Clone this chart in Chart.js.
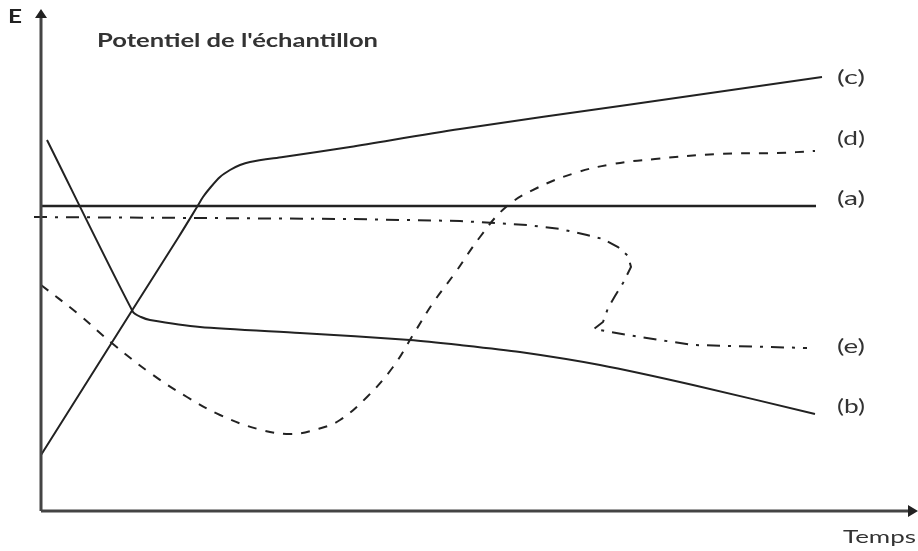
<!DOCTYPE html>
<html lang="fr">
<head>
    <meta charset="UTF-8">
    <title>Potentiel de l'échantillon</title>
    <script src="https://cdn.jsdelivr.net/npm/chart.js"></script>
    <style>
        body { margin: 0; background: #fff; }
        #wrap { width: 918px; height: 551px; }
    </style>
</head>
<body>
<div id="wrap"><canvas id="chart"></canvas></div>
<script>
    // valeurs (temps, E) - unités arbitraires
    const curveA = [[0, 305], [775, 305]];
    const curveB = [[6, 371], [92, 199], [100, 194], [109, 191], [159, 184], [259, 178], [369, 171], [419, 166], [479, 159], [559, 146], [652, 126], [774, 97]];
    const curveC = [[0, 56], [92, 202], [137, 273], [156, 304], [162, 314], [169, 323], [179, 334], [189, 341], [199, 346], [209, 349], [242, 354], [276, 359], [309, 364], [419, 382], [586, 406], [781, 434]];
    const curveD = [[0, 226], [36, 198], [72, 167], [112, 136], [146, 114], [179, 96], [217, 82], [249, 77], [277, 82], [299, 91], [326, 114], [352, 144], [372, 176], [392, 208], [414, 238], [439, 274], [465, 304], [496, 323], [534, 338], [572, 347], [614, 352], [676, 357], [736, 358], [774, 360]];
    const curveE = [[-7, 294], [159, 293], [309, 292], [419, 290], [486, 286], [519, 282], [546, 276], [562, 272], [577, 264], [587, 255], [590, 244], [582, 228], [574, 215], [567, 203], [562, 189], [553, 182], [564, 180], [599, 174], [652, 166], [766, 163]];

    const curveNames = ['(a)', '(b)', '(c)', '(d)', '(e)'];
    const labelLevels = [312, 104, 433, 372, 164];

    const toPts = arr => arr.map(p => ({ x: p[0], y: p[1] }));

    function serie(data, dash, width, tension) {
        return {
            data: toPts(data),
            borderColor: '#222',
            borderWidth: width,
            borderDash: dash,
            pointRadius: 0,
            tension: tension,
            fill: false
        };
    }

    // texte étiré à une largeur donnée (la police d'origine est plus large)
    function fitText(ctx, txt, x, y, w) {
        const m = ctx.measureText(txt).width;
        ctx.save();
        ctx.translate(x, y);
        ctx.scale(w / m, 1);
        ctx.fillText(txt, 0, 0);
        ctx.restore();
    }

    // axes fléchés + textes
    const decor = {
        id: 'decor',
        afterDatasetsDraw(chart) {
            const ctx = chart.ctx;
            const xs = chart.scales.x, ys = chart.scales.y;
            const ox = xs.getPixelForValue(0), oy = ys.getPixelForValue(0);
            const top = ys.getPixelForValue(502);
            const right = chart.chartArea.right;
            ctx.save();
            ctx.strokeStyle = '#444';
            ctx.fillStyle = '#222';
            ctx.lineWidth = 3;
            ctx.beginPath();
            ctx.moveTo(ox, oy); ctx.lineTo(ox, top + 6);
            ctx.moveTo(ox, oy); ctx.lineTo(right - 6, oy);
            ctx.stroke();
            ctx.beginPath();
            ctx.moveTo(ox, top); ctx.lineTo(ox - 6, top + 9); ctx.lineTo(ox + 6, top + 9); ctx.closePath();
            ctx.moveTo(right, oy); ctx.lineTo(right - 10, oy - 6); ctx.lineTo(right - 10, oy + 6); ctx.closePath();
            ctx.fill();

            ctx.fillStyle = '#333';
            ctx.textAlign = 'left';
            ctx.textBaseline = 'alphabetic';
            ctx.font = 'bold 19px Lato';
            fitText(ctx, "Potentiel de l'échantillon", xs.getPixelForValue(56), ys.getPixelForValue(464), 281);
            ctx.fillStyle = '#222';
            ctx.font = 'bold 18px Lato';
            fitText(ctx, 'E', xs.getPixelForValue(-33), ys.getPixelForValue(488), 14);
            ctx.fillStyle = '#333';
            ctx.font = '18px Lato';
            fitText(ctx, 'Temps', xs.getPixelForValue(802), ys.getPixelForValue(-32), 73);
            ctx.font = '19px Lato';
            ctx.textBaseline = 'middle';
            curveNames.forEach((n, i) => {
                fitText(ctx, n, xs.getPixelForValue(796), ys.getPixelForValue(labelLevels[i]), 28);
            });
            ctx.restore();
        }
    };

    new Chart(document.getElementById('chart'), {
        type: 'line',
        data: {
            datasets: [
                serie(curveA, [], 2.5, 0),
                serie(curveB, [], 2, 0.25),
                serie(curveC, [], 2, 0.3),
                serie(curveD, [9, 9], 2, 0.4),
                serie(curveE, [13, 8, 3, 8], 2, 0)
            ]
        },
        options: {
            responsive: true,
            maintainAspectRatio: false,
            animation: false,
            layout: { padding: 0 },
            plugins: { legend: { display: false }, tooltip: { enabled: false } },
            scales: {
                x: { type: 'linear', min: -41, max: 877, display: false },
                y: { type: 'linear', min: -40, max: 511, display: false }
            }
        },
        plugins: [decor]
    });
</script>
</body>
</html>
